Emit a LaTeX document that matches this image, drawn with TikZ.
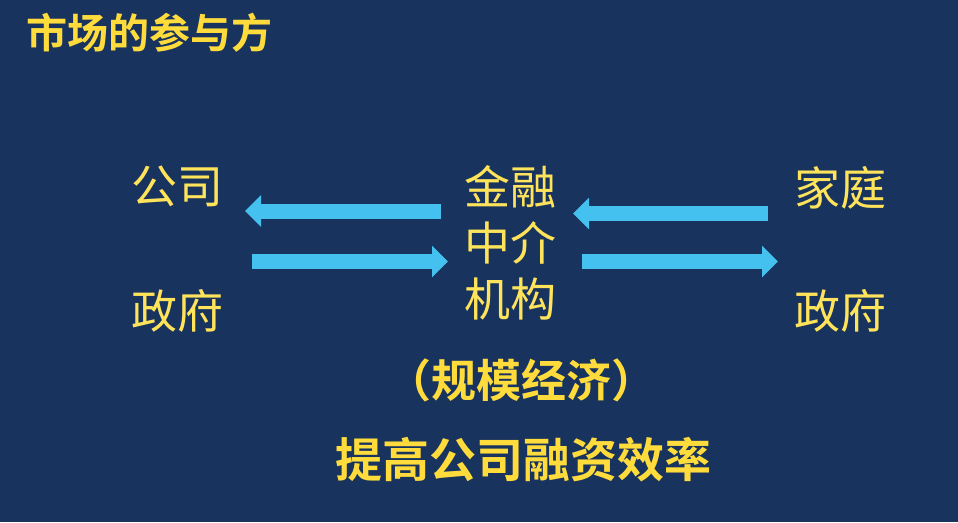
\documentclass[tikz,border=0pt]{standalone}
\usepackage{fontspec}
\newfontfamily\cjk{Noto Sans CJK SC}
\newfontfamily\cjkb{Noto Sans CJK SC Bold}
\usetikzlibrary{arrows.meta}
\definecolor{bg}{HTML}{17335E}
\definecolor{txt}{HTML}{FFE35A}
\definecolor{txtb}{HTML}{FFDC3C}
\definecolor{arr}{HTML}{45C1F0}
\tikzset{
  lbl/.style={inner sep=0pt, text=txt, font=\cjk\fontsize{46}{56}\selectfont},
  boldlbl/.style={inner sep=0pt, text=txtb, font=\cjkb\fontsize{46}{56}\selectfont},
  flow/.style={draw=arr, line width=15pt, -{Triangle[length=16pt,width=31pt]}}
}
\begin{document}
\begin{tikzpicture}[x=1pt,y=-1pt]
\fill[bg] (0,0) rectangle (958,522);
\useasboundingbox (0,0) rectangle (958,522);
\node[boldlbl, anchor=west, font=\cjkb\fontsize{41}{48}\selectfont] (title) at (26,33) {市场的参与方};
\node[lbl] (gs) at (177.5,186) {公司};
\node[lbl] (zf1) at (177.5,311) {政府};
\node[lbl, align=center] (jr) at (510,243) {金融\\中介\\机构};
\node[lbl] (jt) at (840.5,188) {家庭};
\node[lbl] (zf2) at (840.5,311) {政府};
\node[boldlbl, font=\cjkb\fontsize{45}{52}\selectfont] (gm) at (521,380) {（规模经济）};
\node[boldlbl, font=\cjkb\fontsize{47}{56}\selectfont] (tg) at (523,460) {提高公司融资效率};
\coordinate (a1) at (441,211);
\coordinate (b1) at (245,211);
\coordinate (a2) at (252,261.5);
\coordinate (b2) at (448,261.5);
\coordinate (a3) at (768,213.5);
\coordinate (b3) at (573,213.5);
\coordinate (a4) at (582,261.5);
\coordinate (b4) at (778,261.5);
\draw[flow] (a1) -- (b1);
\draw[flow] (a2) -- (b2);
\draw[flow] (a3) -- (b3);
\draw[flow] (a4) -- (b4);
\end{tikzpicture}
\end{document}
